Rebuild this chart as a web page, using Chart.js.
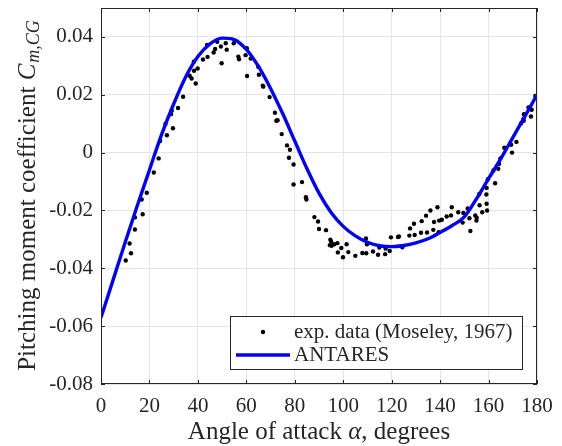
<!DOCTYPE html>
<html>
<head>
<meta charset="utf-8">
<script src="https://cdn.jsdelivr.net/npm/chart.js@4.4.0/dist/chart.umd.min.js"></script>
<style>
  html, body { margin: 0; padding: 0; background: #fff; }
  #wrap { width: 562px; height: 446px; }
</style>
</head>
<body>
<div id="wrap"><canvas id="myChart" width="562" height="446"></canvas></div>
<script>
// experimental points (Moseley, 1967)
const expAlpha = [10.2, 11.8, 12.4, 14.0, 14.0, 16.8, 17.2, 18.9, 21.8, 23.8, 24.4, 26.6, 27.2, 28.9, 29.2, 29.7,
    31.8, 33.9, 36.6, 37.4, 38.3, 38.4, 39.1, 39.9, 42.1, 43.8, 44.0, 46.5, 47.1, 48.0, 49.5, 49.8, 51.5, 51.9,
    54.8, 56.7, 57.0, 59.7, 60.2, 60.3, 61.8, 64.9, 65.2, 66.8, 67.0, 69.6, 71.8, 72.4, 72.9, 74.6, 76.8, 78.0,
    77.6, 79.5, 79.5, 83.0, 84.6, 84.8, 88.1, 89.6, 90.0, 92.9, 94.7, 95.0, 94.5, 95.2, 96.3, 97.6, 97.8, 99.2,
    99.9, 101.4, 102.1, 105.0, 107.9, 109.4, 109.8, 109.5, 112.3, 114.4, 114.9, 117.3, 117.5, 119.2, 119.7,
    122.6, 123.0, 124.4, 127.3, 127.6, 129.2, 129.5, 132.1, 132.4, 134.2, 134.6, 136.0, 137.2, 137.5, 138.9,
    139.4, 139.6, 140.7, 142.7, 144.5, 144.8, 147.5, 149.3, 149.6, 151.4, 152.1, 152.5, 154.5, 155.0, 155.1,
    156.2, 156.3, 157.4, 159.1, 159.2, 159.4, 159.2, 159.7, 162.0, 162.7, 164.0, 164.3, 164.9, 166.5, 169.3,
    169.7, 171.5, 173.4, 174.4, 174.6, 174.5, 176.5, 177.1, 177.5, 177.8, 179.3];
const expCm = [-0.0373, -0.0314, -0.0348, -0.0224, -0.0266, -0.0162, -0.0213, -0.0139, -0.0069, -0.0020, 0.0040,
    0.0099, 0.0060, 0.0133, 0.0145, 0.0084, 0.0154, 0.0193, 0.0266, 0.0256, 0.0314, 0.0283, 0.0239, 0.0291,
    0.0322, 0.0372, 0.0331, 0.0346, 0.0358, 0.0383, 0.0367, 0.0309, 0.0378, 0.0356, 0.0378, 0.0332, 0.0323,
    0.0337, 0.0361, 0.0265, 0.0325, 0.0297, 0.0269, 0.0231, 0.0228, 0.0192, 0.0138, 0.0110, 0.0112, 0.0064,
    0.0025, 0.0010, -0.0018, -0.0041, -0.0110, -0.0102, -0.0154, -0.0162, -0.0223, -0.0238, -0.0264, -0.0268,
    -0.0301, -0.0308, -0.0320, -0.0322, -0.0317, -0.0313, -0.0345, -0.0330, -0.0362, -0.0317, -0.0344, -0.0357,
    -0.0347, -0.0297, -0.0317, -0.0348, -0.0342, -0.0353, -0.0328, -0.0351, -0.0332, -0.0340, -0.0293, -0.0292,
    -0.0290, -0.0327, -0.0287, -0.0262, -0.0246, -0.0285, -0.0277, -0.0237, -0.0218, -0.0276, -0.0200, -0.0267,
    -0.0240, -0.0189, -0.0275, -0.0235, -0.0232, -0.0221, -0.0217, -0.0189, -0.0206, -0.0242, -0.0209, -0.0193,
    -0.0227, -0.0271, -0.0217, -0.0235, -0.0225, -0.0143, -0.0182, -0.0206, -0.0145, -0.0177, -0.0200, -0.0122,
    -0.0092, -0.0062, -0.0106, -0.0056, -0.0039, -0.0020, 0.0017, 0.0027, 0.0000, 0.0037, 0.0101, 0.0116,
    0.0133, 0.0110, 0.0156, 0.0151, 0.0125, 0.0148, 0.0196];

// ANTARES curve
const antaresAlpha = [0, 5, 10, 15, 20, 25, 30, 35, 40, 45, 50, 55, 60, 65, 70, 75, 80, 85, 90, 95, 100,
    105, 110, 115, 120, 125, 130, 135, 140, 145, 150, 155, 160, 165, 170, 175, 180];
const antaresCm = [-0.0570, -0.0440, -0.0310, -0.0183, -0.0060, 0.0062, 0.0168, 0.0262, 0.0332, 0.0376, 0.0396,
    0.0391, 0.0357, 0.0298, 0.0222, 0.0135, 0.0040, -0.0055, -0.0140, -0.0207, -0.0255, -0.0288, -0.0310,
    -0.0322, -0.0325, -0.0321, -0.0312, -0.0298, -0.0276, -0.0252, -0.0222, -0.0160, -0.0090, -0.0022,
    0.0052, 0.0125, 0.0200];

const xTicks = [0, 20, 40, 60, 80, 100, 120, 140, 160, 180];
const yTicks = [-0.08, -0.06, -0.04, -0.02, 0, 0.02, 0.04];

const serif = '"Liberation Serif", "DejaVu Serif", serif';
const ink = '#262626';

// box, inward ticks, axis titles and legend, drawn like the MATLAB figure
const figurePlugin = {
    id: 'figure',
    afterDraw(chart) {
        const ctx = chart.ctx;
        const a = chart.chartArea;
        const xs = chart.scales.x, ys = chart.scales.y;
        ctx.save();
        ctx.strokeStyle = ink;
        ctx.lineWidth = 1;
        ctx.strokeRect(a.left + 0.5, a.top + 0.5, a.right - a.left - 1, a.bottom - a.top - 1);
        ctx.beginPath();
        xTicks.forEach(v => {
            const px = Math.round(xs.getPixelForValue(v)) + 0.5;
            ctx.moveTo(px, a.bottom); ctx.lineTo(px, a.bottom - 4);
            ctx.moveTo(px, a.top); ctx.lineTo(px, a.top + 4);
        });
        yTicks.forEach(v => {
            const py = Math.round(ys.getPixelForValue(v)) + 0.5;
            ctx.moveTo(a.left, py); ctx.lineTo(a.left + 4, py);
            ctx.moveTo(a.right, py); ctx.lineTo(a.right - 4, py);
        });
        ctx.stroke();

        // y axis title: Pitching moment coefficient C_{m,CG}
        const cy = (a.top + a.bottom) / 2;
        const main = 'Pitching moment coefficient ';
        ctx.fillStyle = ink;
        ctx.font = '25px ' + serif;
        const w1 = ctx.measureText(main).width;
        ctx.font = 'italic 25px ' + serif;
        const w2 = ctx.measureText('C').width;
        ctx.font = 'italic 18px ' + serif;
        const w3 = ctx.measureText('m,CG').width;
        const total = w1 + w2 + w3;
        ctx.translate(28, cy);
        ctx.rotate(-Math.PI / 2);
        ctx.textBaseline = 'middle';
        ctx.textAlign = 'left';
        const x0 = -total / 2;
        ctx.font = '25px ' + serif;
        ctx.fillText(main, x0, 0);
        ctx.font = 'italic 25px ' + serif;
        ctx.fillText('C', x0 + w1, 0);
        ctx.font = 'italic 18px ' + serif;
        ctx.fillText('m,CG', x0 + w1 + w2 + 1, 6);
        ctx.setTransform(1, 0, 0, 1, 0, 0);

        // x axis title
        ctx.textAlign = 'left';
        ctx.textBaseline = 'middle';
        const t1 = 'Angle of attack ', t2 = 'α', t3 = ', degrees';
        ctx.font = '25px ' + serif;
        const a1 = ctx.measureText(t1).width, a3 = ctx.measureText(t3).width;
        ctx.font = 'italic 25px ' + serif;
        const a2 = ctx.measureText(t2).width;
        const tx = (a.left + a.right) / 2 - (a1 + a2 + a3) / 2;
        const ty = 432;
        ctx.font = '25px ' + serif;
        ctx.fillText(t1, tx, ty);
        ctx.font = 'italic 25px ' + serif;
        ctx.fillText(t2, tx + a1, ty);
        ctx.font = '25px ' + serif;
        ctx.fillText(t3, tx + a1 + a2, ty);

        // legend box
        const lx = 230, ly = 316, lw = 292, lh = 53;
        ctx.fillStyle = '#fff';
        ctx.fillRect(lx, ly, lw, lh);
        ctx.strokeStyle = ink;
        ctx.lineWidth = 1;
        ctx.strokeRect(lx + 0.5, ly + 0.5, lw, lh);
        const ds = chart.data.datasets;
        ctx.fillStyle = '#000';
        ctx.beginPath();
        ctx.arc(263, 332, 2.2, 0, Math.PI * 2);
        ctx.fill();
        ctx.strokeStyle = '#0000ff';
        ctx.lineWidth = 3.4;
        ctx.beginPath();
        ctx.moveTo(236, 355); ctx.lineTo(290, 355);
        ctx.stroke();
        ctx.fillStyle = ink;
        ctx.font = '21px ' + serif;
        ctx.fillText(ds[0].label, 294, 332);
        ctx.fillText(ds[1].label, 294, 355);
        ctx.restore();
    }
};

const ctx = document.getElementById('myChart').getContext('2d');
new Chart(ctx, {
    type: 'scatter',
    data: {
        datasets: [{
            label: 'exp. data (Moseley, 1967)',
            data: expAlpha.map((a, i) => ({ x: a, y: expCm[i] })),
            pointRadius: 2.2,
            pointBackgroundColor: '#000',
            pointBorderWidth: 0,
            order: 2
        }, {
            label: 'ANTARES',
            type: 'line',
            data: antaresAlpha.map((a, i) => ({ x: a, y: antaresCm[i] })),
            borderColor: '#0000ff',
            borderWidth: 3.4,
            pointRadius: 0,
            cubicInterpolationMode: 'monotone',
            fill: false,
            order: 1
        }]
    },
    options: {
        responsive: false,
        animation: false,
        layout: { padding: { top: 8, right: 25, left: 0, bottom: 0 } },
        plugins: {
            legend: { display: false },
            tooltip: { enabled: false }
        },
        scales: {
            x: {
                type: 'linear',
                min: 0,
                max: 180,
                afterBuildTicks: s => { s.ticks = xTicks.map(v => ({ value: v })); },
                afterFit: s => { s.height = 62; s.paddingLeft = 0; s.paddingRight = 0; },
                grid: { color: '#e5e5e5', drawTicks: false },
                border: { display: false },
                ticks: {
                    padding: 10,
                    color: ink,
                    font: { family: serif, size: 21 },
                    maxRotation: 0
                }
            },
            y: {
                min: -0.08,
                max: 0.05,
                afterBuildTicks: s => { s.ticks = yTicks.map(v => ({ value: v })); },
                afterFit: s => { s.width = 101; s.paddingTop = 0; s.paddingBottom = 0; },
                grid: { color: '#e5e5e5', drawTicks: false },
                border: { display: false },
                ticks: {
                    padding: 8,
                    color: ink,
                    font: { family: serif, size: 21 },
                    callback: v => Math.abs(v) < 1e-9 ? '0' : v.toFixed(2)
                }
            }
        }
    },
    plugins: [figurePlugin]
});
</script>
</body>
</html>
